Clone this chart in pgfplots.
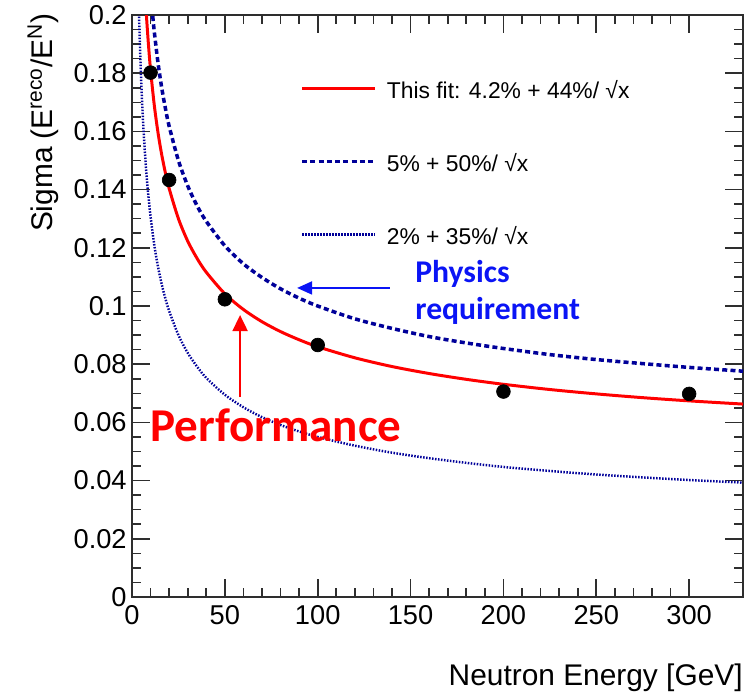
\documentclass[border=0pt]{standalone}
\usepackage{fontspec}
\setmainfont{Liberation Sans}
\newfontfamily\calib{Carlito}
\usepackage{pgfplots}
\pgfplotsset{compat=1.18}
\usetikzlibrary{arrows.meta}
\definecolor{fitred}{HTML}{FF0000}
\definecolor{navy}{HTML}{000099}
\definecolor{annblue}{HTML}{0A14F5}
\definecolor{frame}{HTML}{2E2E2E}

\begin{document}
\begin{tikzpicture}
\useasboundingbox (-2.64cm,-2.02cm) rectangle (12.42cm,11.94cm);
\begin{axis}[
  at={(0,0)}, anchor=south west,
  width=12.22cm, height=11.64cm, scale only axis,
  xmin=0, xmax=329, ymin=0, ymax=0.2,
  xtick={0,50,100,150,200,250,300}, minor x tick num=4,
  ytick={0,0.02,0.04,0.06,0.08,0.1,0.12,0.14,0.16,0.18,0.2}, minor y tick num=3,
  scaled y ticks=false,
  yticklabel style={/pgf/number format/fixed, /pgf/number format/precision=2,
    inner sep=0pt, xshift=-0.1cm},
  xticklabel style={inner sep=0pt, yshift=-0.16cm},
  ticklabel style={font=\fontsize{15.5}{18}\selectfont},
  /pgf/number format/assume math mode=true,
  tick pos=both, tick align=inside,
  major tick length=0.36cm, minor tick length=0.18cm,
  axis line style={frame, line width=0.9pt},
  every tick/.style={frame, line width=0.9pt},
  xlabel={Neutron Energy [GeV]},
  ylabel={Sigma (E\textsuperscript{reco}/E\textsuperscript{N})},
  label style={font=\fontsize{17}{20}\selectfont, inner sep=0pt},
  xlabel style={at={(axis description cs:1,0)}, anchor=base east, yshift=-1.76cm},
  ylabel style={at={(axis description cs:-0.1293,1.0034)}, rotate=0, anchor=base east},
  legend style={at={(0.275,0.8875)}, anchor=north west, draw=none, fill=none,
    inner sep=0pt, row sep=1.01cm, column sep=0.2cm,
    nodes={inner sep=0pt, text height=0.35cm, text depth=0.1cm,
      font=\fontsize{13}{15}\selectfont}},
  legend cell align=left,
  legend image code/.code={\draw[#1] (0cm,0.07cm) -- (1.46cm,0.07cm);},
]
% this fit: 4.2% + 44%/sqrt(x)
\addplot[fitred, line width=1.7pt, smooth] coordinates {
  (7,0.2083) (8,0.1976) (9,0.1887) (10,0.1811) (12,0.1690) (14,0.1596)
  (16,0.1520) (18,0.1457) (20,0.1404) (25,0.1300) (30,0.1223) (35,0.1164)
  (40,0.1116) (50,0.1042) (60,0.0988) (70,0.0946) (80,0.0912) (90,0.0884)
  (100,0.0860) (120,0.0822) (140,0.0792) (160,0.0768) (180,0.0748)
  (200,0.0731) (225,0.0713) (250,0.0698) (275,0.0685) (300,0.0674) (329,0.0663)};
\addlegendentry{This fit: 4.2\% + 44\%/ √x}
% 5% + 50%/sqrt(x)
\addplot[navy, line width=2pt, dash pattern=on 0.1cm off 0.065cm, smooth] coordinates {
  (10,0.2081) (11,0.2008) (12,0.1943) (14,0.1836) (16,0.1750) (18,0.1679)
  (20,0.1618) (25,0.1500) (30,0.1413) (35,0.1345) (40,0.1291) (50,0.1207)
  (60,0.1145) (70,0.1098) (80,0.1059) (90,0.1027) (100,0.1000) (120,0.0956)
  (140,0.0923) (160,0.0895) (180,0.0873) (200,0.0854) (225,0.0833)
  (250,0.0816) (275,0.0802) (300,0.0789) (329,0.0776)};
\addlegendentry{5\% + 50\%/ √x}
% 2% + 35%/sqrt(x)
\addplot[navy, line width=1.4pt, dash pattern=on 0.03cm off 0.03cm, smooth] coordinates {
  (3,0.2221) (3.5,0.2071) (4,0.1950) (5,0.1765) (6,0.1629) (7,0.1523)
  (8,0.1437) (9,0.1367) (10,0.1307) (12,0.1210) (14,0.1135) (16,0.1075)
  (18,0.1025) (20,0.0983) (25,0.0900) (30,0.0839) (35,0.0792) (40,0.0753)
  (50,0.0695) (60,0.0652) (70,0.0618) (80,0.0591) (90,0.0569) (100,0.0550)
  (120,0.0520) (140,0.0496) (160,0.0477) (180,0.0461) (200,0.0447)
  (225,0.0433) (250,0.0421) (275,0.0411) (300,0.0402) (329,0.0393)};
\addlegendentry{2\% + 35\%/ √x}
% measured points
\addplot[only marks, mark=*, mark size=3.9pt, black, forget plot] coordinates {
  (10,0.1802) (20,0.1433) (50,0.1023) (100,0.0866) (200,0.0706) (300,0.0698)};
% annotations
\draw[annblue, line width=1.1pt, -{Triangle[length=0.3cm,width=0.26cm]}]
  (axis cs:138.9,0.1062) -- (axis cs:88.9,0.1062);
\draw[fitred, line width=1.1pt, -{Triangle[length=0.32cm,width=0.3cm]}]
  (axis cs:58.2,0.0687) -- (axis cs:58.2,0.0969);
\node[font=\calib\bfseries\fontsize{18}{20}\selectfont, text=annblue, anchor=base west, inner sep=0pt]
  at (axis cs:152.4,0.1082) {Physics};
\node[font=\calib\bfseries\fontsize{18}{20}\selectfont, text=annblue, anchor=base west, inner sep=0pt]
  at (axis cs:152.4,0.0952) {requirement};
\node[font=\calib\bfseries\fontsize{26.8}{29}\selectfont, text=fitred, anchor=base west, inner sep=0pt]
  at (axis cs:9.7,0.0533) {Performance};
\end{axis}
\end{tikzpicture}
\end{document}
